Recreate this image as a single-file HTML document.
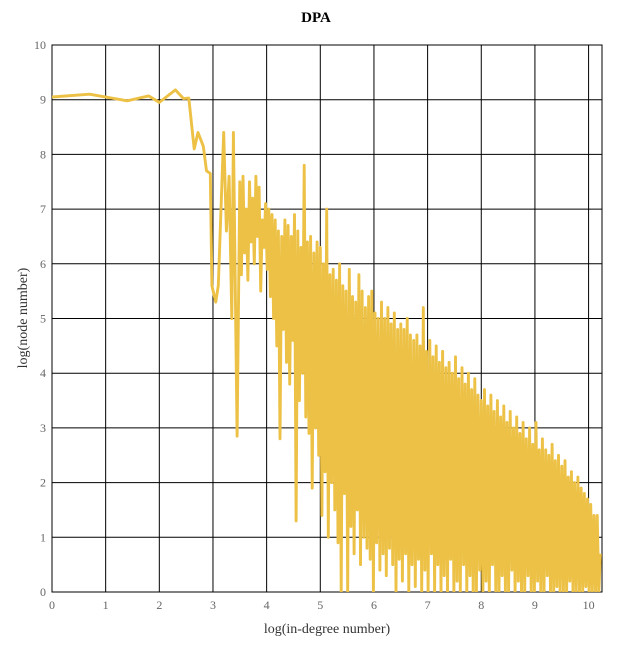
<!DOCTYPE html>
<html><head><meta charset="utf-8"><style>
body{margin:0;background:#fff}
svg text{font-family:"Liberation Serif",serif}
</style></head><body>
<svg id="c" width="632" height="648"></svg>
<script>
const earlyX=[0,0.7,1.4,1.8,2.0,2.3,2.45,2.55,2.65,2.72,2.82,2.88,2.95,2.98,3.05,3.1,3.2,3.25,3.3,3.35,3.38,3.45];
const earlyY=[9.05,9.1,8.98,9.07,8.95,9.18,9.02,9.03,8.1,8.4,8.15,7.7,7.65,5.6,5.3,5.6,8.4,6.6,7.6,5.0,8.4,2.85];
const denseStart=[3.5];
const denseStep=[0.03];
const denseY=[7.5,5.8,7.6,6.2,7.0,5.7,7.5,6.4,7.2,6.0,
7.6,6.5,7.4,5.5,6.8,6.3,7.1,5.9,7.0,5.4,
6.9,5.0,6.8,4.5,6.6,2.8,6.5,4.8,6.8,4.2,
6.7,3.8,6.5,4.6,6.9,1.3,6.6,3.5,6.3,4.0,
7.8,3.2,6.4,2.9,6.5,1.9,6.2,3.0,6.4,2.5,
6.3,1.4,6.0,2.2,7.0,1.0,5.8,2.0,5.9,1.5,
5.7,0.9,6.0,0.0,5.6,1.8,5.5,0.0,5.9,1.2,
5.4,0.7,5.3,1.5,5.8,0.5,5.5,1.0,5.2,0.8,
5.4,0.6,5.5,0.0,5.1,0.9,5.0,0.4,5.3,0.7,
5.0,0.3,5.2,0.8,4.9,0.5,5.1,0.0,4.8,0.6,
4.9,0.2,4.8,0.7,5.0,0.0,4.7,0.5,4.6,0.1,
4.7,0.6,4.5,0.0,5.2,0.4,4.4,0.0,4.6,0.7,
4.3,0.0,4.5,0.5,4.2,0.0,4.4,0.3,4.1,0.0,
4.2,0.6,4.0,0.0,4.3,0.2,3.9,0.0,4.1,0.5,
3.8,0.0,4.0,0.3,3.7,0.0,3.9,0.0,3.6,0.4,
3.5,0.0,3.7,0.2,3.4,0.0,3.6,0.5,3.3,0.0,
3.5,0.0,3.2,0.3,3.4,0.0,3.1,0.0,3.3,0.4,
3.0,0.0,3.2,0.2,2.9,0.0,3.1,0.0,2.8,0.3,
3.0,0.0,2.7,0.0,3.1,0.2,2.6,0.0,2.8,0.0,
2.6,0.3,2.5,0.0,2.7,0.0,2.4,0.1,2.5,0.0,
2.3,0.0,2.4,0.0,2.1,0.2,2.2,0.0,2.0,0.0,
2.1,0.0,1.9,0.0,1.8,0.1,1.7,0.0,1.6,0.0,
1.4,0.0,1.4,0.0,0.7];
const xTicks=[0,1,2,3,4,5,6,7,8,9,10];
const yTicks=[0,1,2,3,4,5,6,7,8,9,10];

const L=52,R=602,T=45,B=592,XMAX=10.25,YMAX=10;
const sx=v=>L+v/XMAX*(R-L), sy=v=>B-v/YMAX*(B-T);
const svg=document.getElementById('c'),NS='http://www.w3.org/2000/svg';
function mk(t,a,p){const e=document.createElementNS(NS,t);for(const k in a)e.setAttribute(k,a[k]);(p||svg).appendChild(e);return e;}
const defs=mk('defs',{});const cp=mk('clipPath',{id:'clip'},defs);mk('rect',{x:L,y:T,width:R-L,height:B-T},cp);
const grid=mk('g',{});


xTicks.forEach(t=>{mk('line',{x1:sx(t),x2:sx(t),y1:T,y2:B,stroke:'#000','stroke-width':1},grid);
const tx=mk('text',{x:sx(t),y:B+17,'text-anchor':'middle','font-size':12,fill:'#666'});tx.textContent=t;

});
yTicks.forEach(t=>{mk('line',{x1:L,x2:R,y1:sy(t),y2:sy(t),stroke:'#000','stroke-width':1},grid);
const tx=mk('text',{x:L-6,y:sy(t)+4,'text-anchor':'end','font-size':12,fill:'#666'});tx.textContent=t;

});
const bd=mk('rect',{x:L,y:T,width:R-L,height:B-T,fill:'none',stroke:'#000','stroke-width':1});


let pts=earlyX.map((x,i)=>[x,earlyY[i]]);
denseY.forEach((y,i)=>pts.push([denseStart[0]+i*denseStep[0],y]));
const line=mk('path',{d:'M'+pts.map(p=>sx(p[0]).toFixed(1)+','+sy(p[1]).toFixed(1)).join('L'),fill:'none',stroke:'#ecc145','stroke-width':2.9,'stroke-linejoin':'round','clip-path':'url(#clip)'});


const ti=mk('text',{x:316,y:22,'text-anchor':'middle','font-size':15,'font-weight':'bold'});ti.textContent='DPA';


const xl=mk('text',{x:327,y:633,'text-anchor':'middle','font-size':14,fill:'#333'});xl.textContent='log(in-degree number)';


const yl=mk('text',{x:0,y:0,'text-anchor':'middle','font-size':14,fill:'#333',transform:'translate(27,318) rotate(-90)'});yl.textContent='log(node number)';


</script>
</body></html>
